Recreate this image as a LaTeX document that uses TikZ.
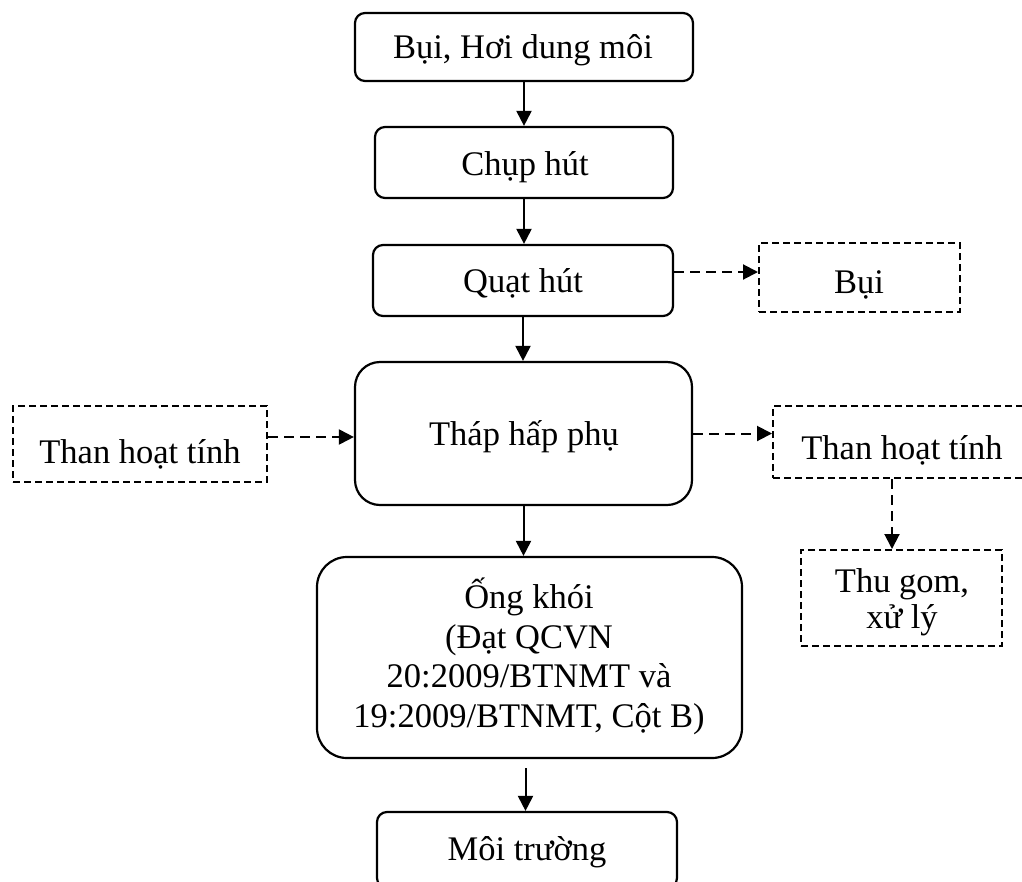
\documentclass[tikz,border=0pt]{standalone}
\usepackage{fontspec}
\setmainfont{Liberation Serif}
\usetikzlibrary{arrows.meta,calc}
\begin{document}
\begin{tikzpicture}[x=1pt,y=-1pt,
  every node/.style={inner sep=0pt},
  txt/.style={font=\fontsize{34.5}{39.5}\selectfont, align=center, anchor=base},
  stage/.style={draw, line width=2.2pt, rounded corners=10pt},
  aux/.style={draw, line width=2pt, dash pattern=on 7pt off 4pt},
  flow/.style={line width=2pt, -{Triangle[length=15pt,width=15pt]}},
  side/.style={line width=2pt, dash pattern=on 10pt off 6pt, -{Triangle[length=15pt,width=15pt]}}]
  \useasboundingbox (0,0) rectangle (1022,881);
  \clip (0,0) rectangle (1022,881);

  % main process chain: frames
  \node[stage, minimum width=338pt, minimum height=68pt] (src) at (524,47) {};
  \node[stage, minimum width=298pt, minimum height=71pt] (hood) at (524,162.5) {};
  \node[stage, minimum width=300pt, minimum height=71pt] (fan) at (523,280.5) {};
  \node[stage, rounded corners=25pt, minimum width=337pt, minimum height=143pt] (tower) at (523.5,433.5) {};
  \node[stage, rounded corners=30pt, minimum width=425pt, minimum height=201pt] (stack) at (529.5,657.5) {};
  \node[stage, minimum width=300pt, minimum height=76pt] (env) at (527,850) {};

  % side streams: frames
  \node[aux, minimum width=201pt, minimum height=69pt] (dust) at (859.5,277.5) {};
  \node[aux, minimum width=254pt, minimum height=76pt] (carbonin) at (140,444) {};
  \node[aux, minimum width=254pt, minimum height=72pt] (carbonout) at (900,442) {};
  \node[aux, minimum width=201pt, minimum height=96pt] (collect) at (901.5,598) {};

  % labels, placed on the baseline of their last line
  \node[txt] (srcT) at (523,58) {Bụi, Hơi dung môi};
  \node[txt] (hoodT) at (525,175) {Chụp hút};
  \node[txt] (fanT) at (523,292) {Quạt hút};
  \node[txt] (towerT) at (524,445) {Tháp hấp phụ};
  \node[txt] (stackT) at (529,727) {Ống khói\\(Đạt QCVN\\20:2009/BTNMT và\\19:2009/BTNMT, Cột B)};
  \node[txt] (envT) at (527,860) {Môi trường};
  \node[txt] (dustT) at (859,293) {Bụi};
  \node[txt] (carboninT) at (140,463) {Than hoạt tính};
  \node[txt] (carbonoutT) at (902,459) {Than hoạt tính};
  \node[txt, font=\fontsize{34.5}{36}\selectfont] (collectT) at (902,628) {Thu gom,\\xử lý};

  % main flow arrows
  \draw[flow] (src.south) -- (src.south |- hood.north);
  \draw[flow] (hood.south) -- (hood.south |- fan.north);
  \draw[flow] (fan.south) -- (fan.south |- tower.north);
  \draw[flow] (tower.south) -- (tower.south |- stack.north);
  \draw[flow, shorten <=9pt] ([xshift=-4pt]stack.south) -- ([xshift=-4pt]stack.south |- env.north);

  % side flow arrows
  \draw[side] ([yshift=8.5pt]fan.east) -- ([yshift=8.5pt]fan.east -| dust.west);
  \draw[side] ([yshift=7pt]carbonin.east) -- ([yshift=7pt]carbonin.east -| tower.west);
  \draw[side] (tower.east) -- (tower.east -| carbonout.west);
  \draw[side] ([xshift=-8pt]carbonout.south) -- ([xshift=-8pt]carbonout.south |- collect.north);
\end{tikzpicture}
\end{document}
